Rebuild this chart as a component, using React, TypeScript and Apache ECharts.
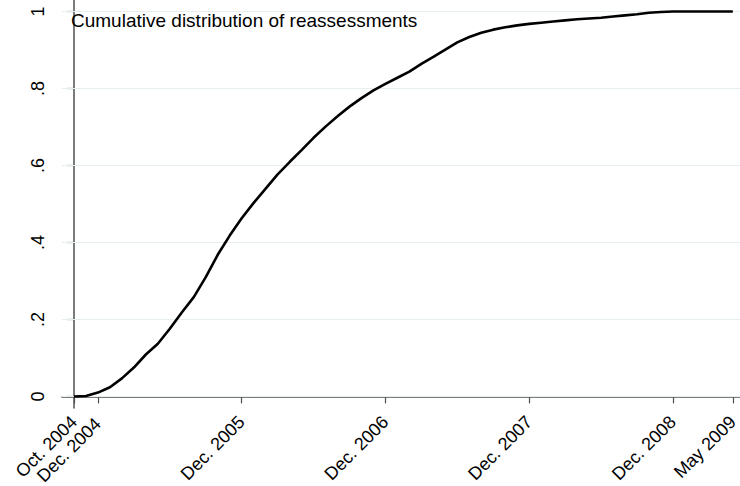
import React, { useEffect, useRef } from "react";
import * as echarts from "echarts";

// months since Oct. 2004
const months = [
  0, 1, 2, 3, 4, 5, 6, 7, 8, 9, 10, 11, 12, 13, 14, 15, 16, 17, 18, 19, 20,
  21, 22, 23, 24, 25, 26, 27, 28, 29, 30, 31, 32, 33, 34, 35, 36, 37, 38, 39,
  40, 41, 42, 43, 44, 45, 46, 47, 48, 49, 50, 51, 52, 53, 54, 55,
];
const cumulative = [
  0, 0.001, 0.01, 0.024, 0.047, 0.075, 0.109, 0.137, 0.176, 0.218, 0.258,
  0.31, 0.368, 0.418, 0.463, 0.503, 0.54, 0.577, 0.609, 0.64, 0.672, 0.701,
  0.728, 0.753, 0.775, 0.795, 0.812, 0.828, 0.844, 0.864, 0.882, 0.901, 0.92,
  0.934, 0.945, 0.953, 0.959, 0.964, 0.968, 0.971, 0.974, 0.977, 0.98, 0.982,
  0.984, 0.987, 0.99, 0.993, 0.997, 0.999, 1, 1, 1, 1, 1, 1,
];
const xTickMonths = [0, 2, 14, 26, 38, 50, 55];
const xTickLabels = [
  "Oct. 2004",
  "Dec. 2004",
  "Dec. 2005",
  "Dec. 2006",
  "Dec. 2007",
  "Dec. 2008",
  "May 2009",
];
// Dec. 2004 sits so close to Oct. 2004 that it gets its own label axis
const xLabelMonthsA = [0, 14, 26, 38, 50, 55];
const xLabelMonthsB = [2];
const yTicks = [0, 0.2, 0.4, 0.6, 0.8, 1];
const yTickLabels = ["0", ".2", ".4", ".6", ".8", "1"];
const noteText = "Cumulative distribution of reassessments";

export default function App() {
  const ref = useRef<HTMLDivElement>(null);
  useEffect(() => {
    if (!ref.current) return;
    const chart = echarts.init(ref.current, null, { renderer: "svg" });
    const font = "'Liberation Sans', Arial, Helvetica, sans-serif";
    const axisColor = "#505050";
    const xLabelFmt = (v: number) => {
      const i = xTickMonths.indexOf(Math.round(v));
      return i >= 0 ? xTickLabels[i] : "";
    };
    const xLabelBase = {
      rotate: 45,
      margin: 11,
      fontSize: 18,
      fontFamily: font,
      color: "#000",
      hideOverlap: false,
      showMinLabel: true,
      showMaxLabel: true,
      formatter: xLabelFmt,
    };
    chart.setOption({
      animation: false,
      backgroundColor: "#ffffff",
      textStyle: { fontFamily: font },
      title: {
        text: noteText,
        left: 66,
        top: 6,
        textStyle: { fontFamily: font, fontSize: 19, fontWeight: "normal", color: "#000" },
      },
      grid: {
        left: 62,
        right: 0,
        top: 0,
        bottom: 78,
        containLabel: false,
        outerBoundsMode: "none",
      },
      xAxis: [
        {
          type: "value",
          min: -1,
          max: 55.6,
          position: "bottom",
          axisLine: { show: true, lineStyle: { color: axisColor, width: 1.5 } },
          axisTick: {
            show: true,
            length: 7,
            customValues: xTickMonths,
            lineStyle: { color: axisColor, width: 1.2 },
          },
          axisLabel: { ...xLabelBase, customValues: xLabelMonthsA },
          splitLine: { show: false },
        },
        {
          type: "value",
          min: -1,
          max: 55.6,
          position: "bottom",
          offset: 0,
          axisLine: { show: false },
          axisTick: { show: false },
          axisLabel: { ...xLabelBase, margin: 13, customValues: xLabelMonthsB },
          splitLine: { show: false },
        },
      ],
      yAxis: {
        type: "value",
        min: -0.03,
        max: 1.03,
        axisLine: { show: true, lineStyle: { color: axisColor, width: 1.5 } },
        axisTick: {
          show: true,
          length: 7,
          customValues: yTicks,
          lineStyle: { color: axisColor, width: 1.2 },
        },
        axisLabel: {
          customValues: yTicks,
          rotate: 90,
          margin: 15,
          fontSize: 18,
          fontFamily: font,
          color: "#000",
          hideOverlap: false,
          formatter: (v: number) => {
            let idx = -1;
            yTicks.forEach((t, i) => {
              if (Math.abs(t - v) < 1e-6) idx = i;
            });
            return idx >= 0 ? yTickLabels[idx] : "";
          },
        },
        splitLine: { show: false },
      },
      series: [
        {
          type: "line",
          data: [],
          z: 1,
          silent: true,
          xAxisIndex: 0,
          markLine: {
            silent: true,
            z: 1,
            symbol: "none",
            label: { show: false },
            lineStyle: { color: "#e6eeee", width: 1.2, type: "solid" },
            data: yTicks.map((t) => ({ yAxis: t })),
          },
        },
        {
          type: "line",
          z: 5,
          xAxisIndex: 0,
          data: months.map((m, i) => [m, cumulative[i]]),
          showSymbol: false,
          smooth: false,
          lineStyle: { color: "#000", width: 2.6 },
        },
      ],
    });
    return () => chart.dispose();
  }, []);
  return (
    <div
      ref={ref}
      style={{ position: "fixed", left: 0, top: 0, width: 740, height: 486 }}
    />
  );
}
